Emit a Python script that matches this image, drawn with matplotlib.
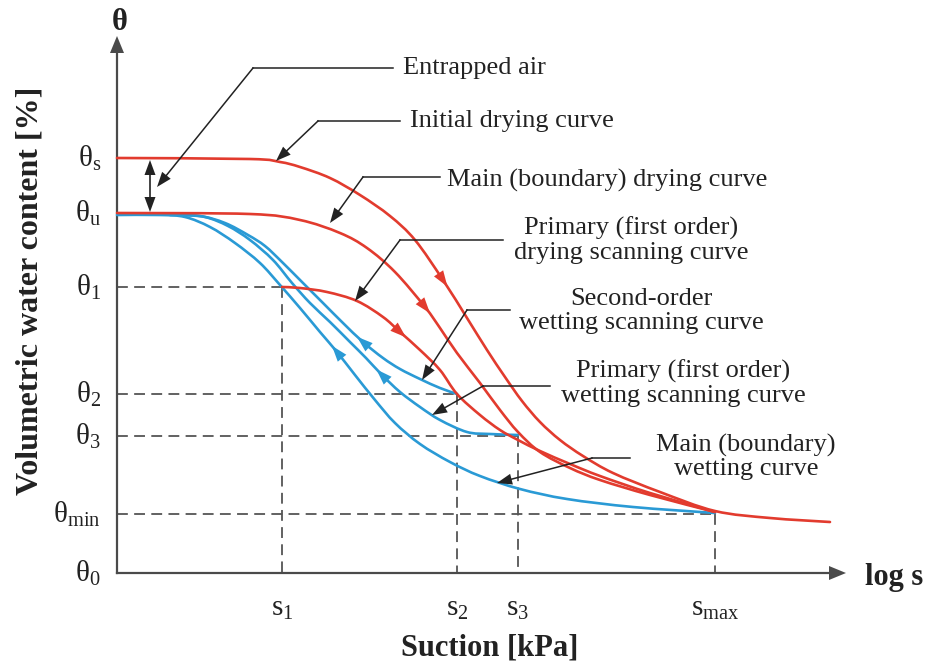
import numpy as np
import matplotlib
matplotlib.use("Agg")
import matplotlib.pyplot as plt
from matplotlib.path import Path
from matplotlib.patches import PathPatch

plt.rcParams["font.family"] = ["Liberation Serif", "DejaVu Serif"]
plt.rcParams["mathtext.fontset"] = "custom"
plt.rcParams["mathtext.rm"] = "Liberation Serif"
plt.rcParams["mathtext.it"] = "Liberation Serif:italic"
plt.rcParams["mathtext.default"] = "regular"

RED = "#e23b2e"
BLUE = "#2a9ad5"
INK = "#222222"
AXIS = "#4a4a4a"
DASH = "#555555"

# characteristic levels on the axes (diagram units, origin at axis corner)
theta_names = ["s", "u", "1", "2", "3", "min", "0"]
theta_levels = [415, 360, 286, 179, 137, 59, 0]
suction_names = ["1", "2", "3", "max"]
suction_levels = [165, 340, 401, 598]

# drying curves (drawn from wet to dry)
initial_s = [0, 133, 163, 183, 213, 243, 273, 298, 326, 350, 370, 388, 405, 423, 443, 466, 496, 543, 598, 653, 713]
initial_theta = [415, 414, 411, 406, 395, 378, 357, 333, 293, 255, 223, 196, 172, 151, 133, 117, 100, 81, 62, 55, 51]

main_dry_s = [0, 133, 183, 223, 250, 278, 308, 323, 340, 363, 383, 401, 423, 453, 483, 533, 598]
main_dry_theta = [360, 359, 353, 340, 325, 301, 266, 245, 220, 190, 163, 141, 121, 105, 93, 78, 61]

scan_dry_s = [165, 183, 210, 240, 266, 283, 303, 323, 340, 363, 383, 401, 423, 453, 483, 533, 598]
scan_dry_theta = [286, 285, 281, 272, 256, 241, 223, 203, 179, 158, 143, 133, 122, 109, 97, 80, 61]

# wetting curves (drawn from wet to dry, arrows point back toward wet)
main_wet_s = [0, 43, 68, 93, 118, 143, 163, 183, 203, 220, 238, 258, 278, 303, 333, 363, 403, 450, 516, 598]
main_wet_theta = [358, 358, 356, 346, 330, 310, 288, 265, 241, 221, 198, 173, 150, 129, 111, 97, 84, 74, 66, 60]

first_wet_s = [63, 88, 111, 133, 156, 175, 193, 213, 233, 249, 265, 283, 303, 323, 350, 373, 401]
first_wet_theta = [358, 356, 347, 333, 313, 290, 270, 251, 231, 215, 198, 181, 166, 153, 141, 139, 138]

second_wet_s = [53, 83, 108, 131, 148, 165, 186, 206, 226, 246, 266, 283, 303, 323, 340]
second_wet_theta = [358, 357, 350, 338, 327, 311, 290, 270, 250, 231, 215, 204, 194, 185, 179]


def smooth_path(xs, ys):
    pts = np.column_stack([xs, ys]).astype(float)
    n = len(pts)
    verts = [pts[0]]
    codes = [Path.MOVETO]
    for i in range(n - 1):
        p0 = pts[max(i - 1, 0)]
        p1 = pts[i]
        p2 = pts[i + 1]
        p3 = pts[min(i + 2, n - 1)]
        verts += [p1 + (p2 - p0) / 6.0, p2 - (p3 - p1) / 6.0, p2]
        codes += [Path.CURVE4] * 3
    return Path(verts, codes)


def head(ax, tip, direction, color, length=14, width=10, z=5):
    d = np.asarray(direction, float)
    d = d / np.hypot(*d)
    nrm = np.array([-d[1], d[0]])
    tip = np.asarray(tip, float)
    base = tip - d * length
    tri = np.array([tip, base + nrm * width / 2, base - nrm * width / 2])
    ax.fill(tri[:, 0], tri[:, 1], color=color, lw=0, zorder=z)


def curve(ax, xs, ys, color, arrow_at, reverse=False, z=3):
    ax.add_patch(PathPatch(smooth_path(xs, ys), fill=False, edgecolor=color,
                           lw=1.9, capstyle="round", zorder=z))
    i = arrow_at
    d = np.array([xs[i + 1] - xs[i - 1], ys[i + 1] - ys[i - 1]], float)
    if reverse:
        d = -d
    d = d / np.hypot(*d)
    head(ax, np.array([xs[i], ys[i]]) + d * 8, d, color, length=16, width=11, z=z + 1)


def pointer(ax, text_end, bend, tip, z=6):
    ax.plot([text_end[0], bend[0]], [text_end[1], bend[1]], color=INK, lw=1.1, zorder=z)
    d = np.array(tip, float) - np.array(bend, float)
    d = d / np.hypot(*d)
    base = np.array(tip, float) - d * 13
    ax.plot([bend[0], base[0]], [bend[1], base[1]], color=INK, lw=1.1, zorder=z)
    head(ax, tip, d, INK, length=15, width=11, z=z)


fig = plt.figure(figsize=(9.3, 6.66), dpi=100)
fig.patch.set_facecolor("white")
ax = fig.add_axes([0, 0, 1, 1])
ax.set_xlim(-117, 813)
ax.set_ylim(-93, 573)
ax.axis("off")

# axes with arrowheads
ax.plot([0, 0], [0, 522], color=AXIS, lw=1.6, zorder=2)
head(ax, (0, 537), (0, 1), AXIS, length=17, width=14)
ax.plot([0, 713], [0, 0], color=AXIS, lw=1.6, zorder=2)
head(ax, (729, 0), (1, 0), AXIS, length=17, width=14)

# dashed guides
for th, s in zip(theta_levels[2:6], suction_levels):
    ax.plot([0, s], [th, th], color=DASH, lw=1.3, ls=(0, (6, 3.5)), zorder=1)
    ax.plot([s, s], [th, 0], color=DASH, lw=1.3, ls=(0, (6, 3.5)), zorder=1)

# wetting curves
curve(ax, main_wet_s, main_wet_theta, BLUE, 9, reverse=True)
curve(ax, first_wet_s, first_wet_theta, BLUE, 10, reverse=True)
curve(ax, second_wet_s, second_wet_theta, BLUE, 9, reverse=True)

# drying curves
curve(ax, scan_dry_s, scan_dry_theta, RED, 5, z=4)
curve(ax, main_dry_s, main_dry_theta, RED, 6, z=4)
curve(ax, initial_s, initial_theta, RED, 8, z=4)

# tick labels
for name, th in zip(theta_names, theta_levels):
    ax.text(-16, th, r"$θ_{%s}$" % name, ha="right", va="center", fontsize=21, color=INK)
for name, s in zip(suction_names, suction_levels):
    ax.text(s, -36, r"$s_{%s}$" % name, ha="center", va="center", fontsize=21, color=INK)

# axis titles
ax.text(3, 551, "θ", ha="center", va="center", fontsize=22, fontweight="bold", color=INK)
ax.text(748, -4, "log s", ha="left", va="center", fontsize=22, fontweight="bold", color=INK)
ax.text(373, -75, "Suction [kPa]", ha="center", va="center", fontsize=22, fontweight="bold", color=INK)
ax.text(-87, 282, "Volumetric water content [%]", ha="center", va="center", rotation=90,
        fontsize=23, fontweight="bold", color=INK)

# entrapped air span
ax.plot([33, 33], [399, 375], color=INK, lw=1.2, zorder=6)
head(ax, (33, 413), (0, 1), INK, length=15, width=11)
head(ax, (33, 361), (0, -1), INK, length=15, width=11)

# callouts
ax.text(286, 505, "Entrapped air", ha="left", va="center", fontsize=19, color=INK)
pointer(ax, (276, 505), (136, 505), (40, 386))

ax.text(293, 452, "Initial drying curve", ha="left", va="center", fontsize=19, color=INK)
pointer(ax, (283, 452), (201, 452), (159, 412))

ax.text(330, 393, "Main (boundary) drying curve", ha="left", va="center", fontsize=19, color=INK)
pointer(ax, (323, 396), (246, 396), (213, 350))

ax.text(514, 333, "Primary (first order)\ndrying scanning curve", ha="center", va="center",
        fontsize=19, color=INK, linespacing=1.1)
pointer(ax, (386, 333), (283, 333), (238, 272))

ax.text(524, 262, "Second-order\nwetting scanning curve", ha="center", va="center",
        fontsize=19, color=INK, linespacing=1.1)
pointer(ax, (393, 263), (350, 263), (305, 193))

ax.text(566, 190, "Primary (first order)\nwetting scanning curve", ha="center", va="center",
        fontsize=19, color=INK, linespacing=1.1)
pointer(ax, (433, 187), (366, 187), (315, 158))

ax.text(629, 116, "Main (boundary)\nwetting curve", ha="center", va="center",
        fontsize=19, color=INK, linespacing=1.1)
pointer(ax, (513, 115), (475, 115), (380, 90))

fig.savefig("out.png", dpi=100, facecolor="white")
